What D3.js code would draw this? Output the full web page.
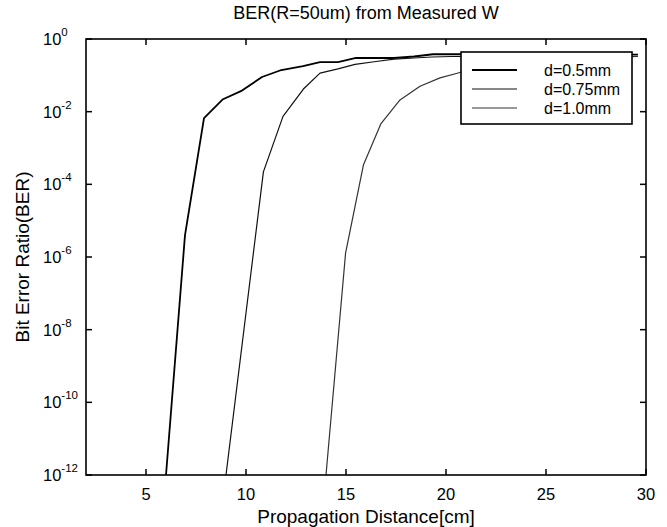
<!DOCTYPE html>
<html><head><meta charset="utf-8">
<script src="https://cdn.jsdelivr.net/npm/d3@7"></script>
<style>body{margin:0;background:#fff;} svg{display:block;font-family:"Liberation Sans",Arial,sans-serif;}</style>
</head><body><svg id="c" width="667" height="527"></svg>
<script>
const title = "BER(R=50um) from Measured W";
const xLabel = "Propagation Distance[cm]";
const yLabel = "Bit Error Ratio(BER)";
const xTicks = [5, 10, 15, 20, 25, 30];
const yTickExps = [0, -2, -4, -6, -8, -10, -12];
const seriesNames = ["d=0.5mm", "d=0.75mm", "d=1.0mm"];

const x05 = [6, 6.95, 7.9, 8.85, 9.8, 10.8, 11.7, 12.85, 13.7, 14.6, 15.5, 16.5, 17.4, 18.4, 19.35, 20.4, 21.4, 22.4, 23.4, 24.4, 25.4, 26.4, 27.4, 28.4, 29.6];
const y05 = [1e-12, 4e-6, 6.6e-3, 2.2e-2, 3.8e-2, 9e-2, 0.136, 0.18, 0.23, 0.23, 0.3, 0.3, 0.3, 0.33, 0.38, 0.38, 0.38, 0.37, 0.37, 0.37, 0.37, 0.37, 0.37, 0.37, 0.37];
const x075 = [9, 10.87, 11.85, 12.87, 13.7, 14.6, 15.45, 16.5, 17.4, 18.4, 19.3, 20.3, 21.3, 22.3, 23.3, 24.3, 25.3, 26.3, 27.3, 28.3, 29.6];
const y075 = [1e-12, 2.2e-4, 7.4e-3, 4.2e-2, 0.115, 0.15, 0.2, 0.24, 0.28, 0.3, 0.32, 0.33, 0.33, 0.33, 0.33, 0.33, 0.33, 0.33, 0.33, 0.33, 0.33];
const x10 = [14, 14.98, 15.87, 16.75, 17.7, 18.7, 19.7, 20.7, 21.7, 22.6, 23.6, 24.6, 25.6, 26.6, 27.6, 28.6, 29.6];
const y10 = [1e-12, 1.3e-6, 3.4e-4, 4.7e-3, 2.1e-2, 5e-2, 8.5e-2, 0.12, 0.16, 0.2, 0.23, 0.26, 0.28, 0.3, 0.31, 0.32, 0.33];

const series = [
  {name: seriesNames[0], xs: x05, ys: y05, w: 1.8, c: "#000"},
  {name: seriesNames[1], xs: x075, ys: y075, w: 1.2, c: "#111"},
  {name: seriesNames[2], xs: x10, ys: y10, w: 1.2, c: "#333"}
];

const svg = d3.select("#c");
const L = 86, R = 646, T = 39, B = 475;
const x = d3.scaleLinear().domain([2, 30]).range([L, R]);
const y = d3.scaleLog().domain([1e-12, 1]).range([B, T]);

const g = svg.append("g");
const line = d3.line().x(d => x(d[0])).y(d => y(d[1]));
series.forEach(s => {
  g.append("path").datum(s.xs.map((v, i) => [v, s.ys[i]]))
    .attr("d", line).attr("fill", "none").attr("stroke", s.c)
    .attr("stroke-width", s.w).attr("stroke-linejoin", "round");
});

svg.append("rect").attr("x", L).attr("y", T).attr("width", R - L).attr("height", B - T)
  .attr("fill", "none").attr("stroke", "#000").attr("stroke-width", 1.6);

const tl = 6;
xTicks.forEach(t => {
  svg.append("line").attr("x1", x(t)).attr("x2", x(t)).attr("y1", B).attr("y2", B - tl).attr("stroke", "#000").attr("stroke-width", 1.5);
  svg.append("line").attr("x1", x(t)).attr("x2", x(t)).attr("y1", T).attr("y2", T + tl).attr("stroke", "#000").attr("stroke-width", 1.5);
  svg.append("text").attr("x", x(t)).attr("y", 500).attr("text-anchor", "middle")
    .attr("font-size", 16.5).text(t);
});
yTickExps.forEach(e => {
  const v = Math.pow(10, e);
  svg.append("line").attr("x1", L).attr("x2", L + tl).attr("y1", y(v)).attr("y2", y(v)).attr("stroke", "#000").attr("stroke-width", 1.5);
  svg.append("line").attr("x1", R).attr("x2", R - tl).attr("y1", y(v)).attr("y2", y(v)).attr("stroke", "#000").attr("stroke-width", 1.5);
  const t = svg.append("text").attr("x", 43).attr("y", y(v) + 6).attr("font-size", 16.5);
  t.append("tspan").text("10");
  t.append("tspan").attr("dy", -9).attr("font-size", 11.5).text(e);
});

svg.append("text").attr("x", (L + R) / 2).attr("y", 19).attr("text-anchor", "middle").attr("font-size", 18).text(title);
svg.append("text").attr("x", (L + R) / 2).attr("y", 523).attr("text-anchor", "middle").attr("font-size", 19).text(xLabel);
svg.append("text").attr("transform", "translate(29," + (T + B) / 2 + ") rotate(-90)").attr("text-anchor", "middle").attr("font-size", 19).text(yLabel);

const lg = svg.append("g");
lg.append("rect").attr("x", 461).attr("y", 52).attr("width", 171).attr("height", 72)
  .attr("fill", "#fff").attr("stroke", "#000").attr("stroke-width", 1.6);
const rowY = [70, 89, 108];
series.forEach((s, i) => {
  lg.append("line").attr("x1", 472).attr("x2", 517).attr("y1", rowY[i]).attr("y2", rowY[i])
    .attr("stroke", s.c).attr("stroke-width", s.w);
  lg.append("text").attr("x", 544).attr("y", rowY[i] + 6).attr("font-size", 16).text(s.name);
});
</script></body></html>
